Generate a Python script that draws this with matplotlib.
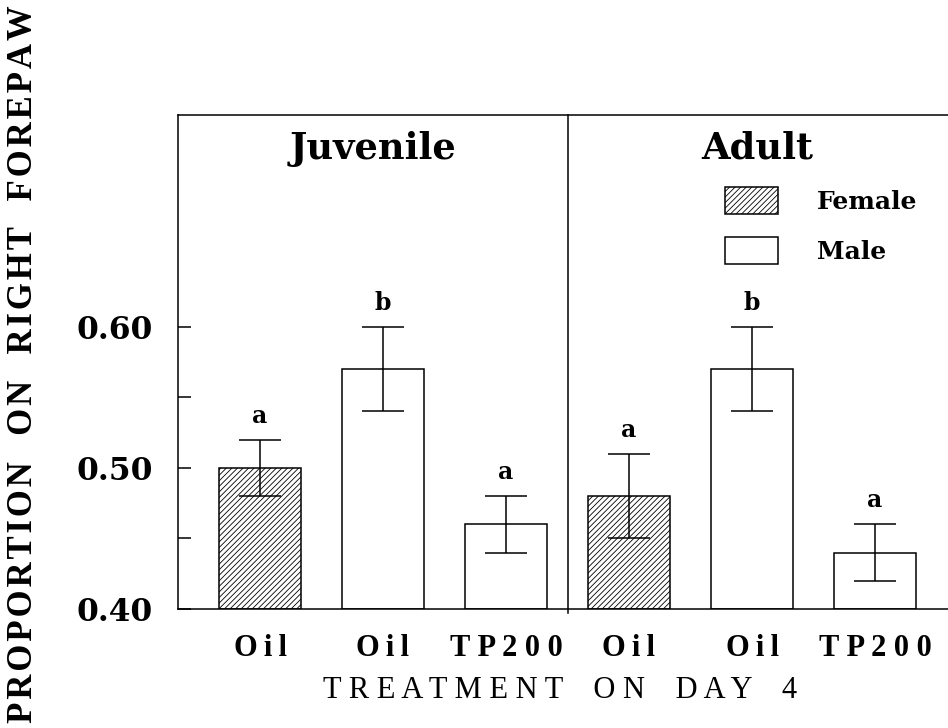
import matplotlib
matplotlib.use("Agg")
import matplotlib.pyplot as plt
import numpy as np
from matplotlib.patches import Patch

# data
groups = ["Juvenile", "Adult"]
tick_labels = ["Oil", "Oil", "TP200", "Oil", "Oil", "TP200"]
sexes = ["Female", "Male", "Male", "Female", "Male", "Male"]
means = [0.50, 0.57, 0.46, 0.48, 0.57, 0.44]
err_low = [0.48, 0.54, 0.44, 0.45, 0.54, 0.42]
err_high = [0.52, 0.60, 0.48, 0.51, 0.60, 0.46]
letters = ["a", "b", "a", "a", "b", "a"]

plt.rcParams["hatch.linewidth"] = 0.6
SERIF = ["Liberation Serif", "DejaVu Serif"]


def spaced(s, gap, word_gap="   "):
    # crude letter spacing, the original typesetting is very loose
    return word_gap.join(gap.join(w) for w in s.split(" "))


fig = plt.figure(figsize=(9.48, 7.28), dpi=100)
ax = fig.add_axes([178 / 948, 119 / 728, 779 / 948, 494 / 728])

x = np.array([0, 1.5, 3, 4.5, 6, 7.5])
means = np.array(means)
yerr = np.array([means - np.array(err_low), np.array(err_high) - means])

for xi, m, s in zip(x, means, sexes):
    ax.bar(xi, m - 0.40, bottom=0.40, width=1.0, facecolor="white",
           edgecolor="black", linewidth=1.1,
           hatch="//////" if s == "Female" else None, zorder=2)

ax.errorbar(x, means, yerr=yerr, fmt="none", ecolor="black", elinewidth=1.1,
            capsize=14.8, capthick=1.1, zorder=3)

for xi, hi, lt in zip(x, err_high, letters):
    ax.text(xi, hi + 0.012, lt, ha="center", va="baseline",
            fontsize=17, fontweight="bold", family="DejaVu Serif")

ax.set_xlim(-1, 8.5)
ax.set_ylim(0.40, 0.75)

# divider between age groups
ax.plot([3.75, 3.75], [0.397, 0.75], color="black", lw=1.1, clip_on=False, zorder=4)

# group titles
for gx, g in zip([1.375, 6.06], groups):
    ax.text(gx, 0.719, g, ha="center", va="baseline", fontsize=26.5,
            fontweight="bold", family="DejaVu Serif")

ax.set_yticks([0.40, 0.50, 0.60])
ax.set_yticks([0.45, 0.55], minor=True)
ax.set_yticklabels(["0.40", "0.50", "0.60"], family="DejaVu Serif",
                   fontweight="bold", fontsize=22.5)
ax.tick_params(axis="y", which="both", direction="in", length=9, width=1.1, pad=18)
ax.set_xticks(x)
xt = [spaced(t, "\u2009") if t == "Oil" else spaced(t, " ") for t in tick_labels]
ax.set_xticklabels(xt, family=SERIF, fontweight="bold", fontsize=22)
ax.tick_params(axis="x", length=0, pad=18)

for sp in ax.spines.values():
    sp.set_linewidth(1.1)

fig.text(32 / 948, 1 - 364 / 728, spaced("PROPORTION ON RIGHT FOREPAW", "\u200a", "   "),
         rotation=90, rotation_mode="anchor", ha="center", va="baseline",
         fontsize=25, family=SERIF, fontweight="bold")
fig.text(560 / 948, 30 / 728, spaced("TREATMENT ON DAY 4", " ", "    "), ha="center",
         va="baseline", fontsize=22, family=SERIF)

handles = [Patch(facecolor="white", edgecolor="black", hatch="//////", linewidth=1.1),
           Patch(facecolor="white", edgecolor="black", linewidth=1.1)]
leg = ax.legend(handles, ["Female", "Male"], loc="upper left",
                bbox_to_anchor=(0.702, 0.854), frameon=False, borderpad=0,
                borderaxespad=0, handlelength=2.12, handleheight=1.28,
                labelspacing=0.92, handletextpad=1.56,
                prop={"family": "DejaVu Serif", "weight": "bold", "size": 18})

fig.savefig("out.png", dpi=100)
